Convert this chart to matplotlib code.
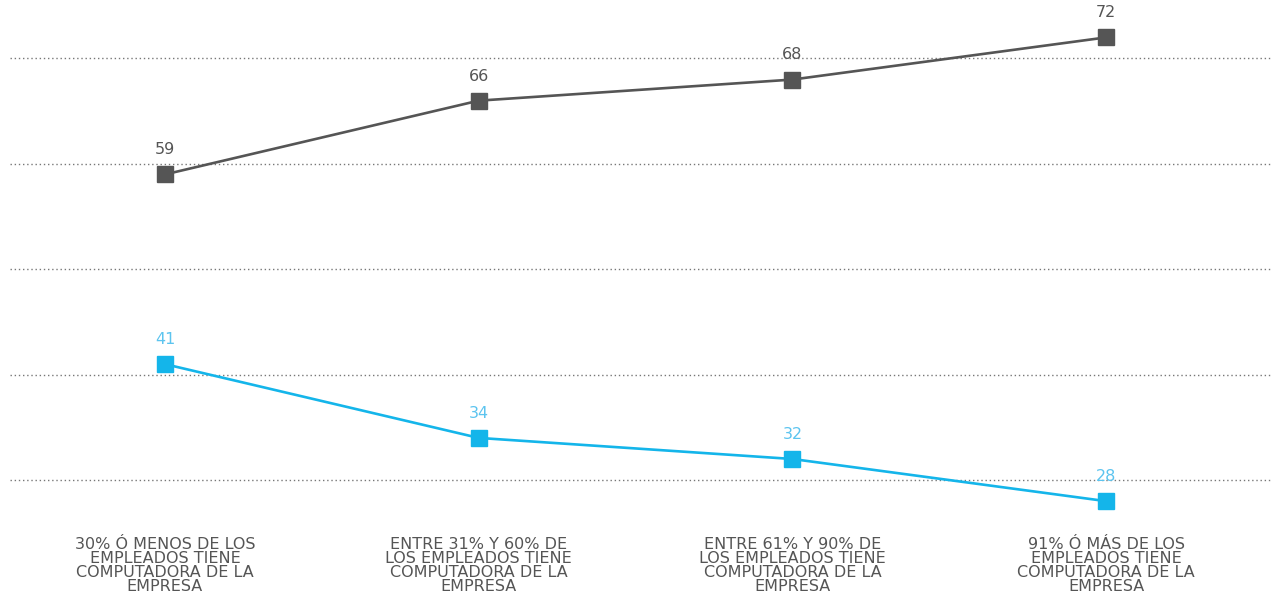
import matplotlib
matplotlib.use('Agg')
import matplotlib.pyplot as plt

categories = [
    "30% Ó MENOS DE LOS\nEMPLEADOS TIENE\nCOMPUTADORA DE LA\nEMPRESA",
    "ENTRE 31% Y 60% DE\nLOS EMPLEADOS TIENE\nCOMPUTADORA DE LA\nEMPRESA",
    "ENTRE 61% Y 90% DE\nLOS EMPLEADOS TIENE\nCOMPUTADORA DE LA\nEMPRESA",
    "91% Ó MÁS DE LOS\nEMPLEADOS TIENE\nCOMPUTADORA DE LA\nEMPRESA",
]
serie_gris = [59, 66, 68, 72]
serie_azul = [41, 34, 32, 28]
grid_vals = [30, 40, 50, 60, 70]

gris = '#555555'
azul = '#14b5ea'
azul_txt = '#5cc4ef'

fig = plt.figure(figsize=(12.73, 5.96), dpi=100)
ax = fig.add_axes([10 / 1273, 1 - 512 / 596, 1 - 10 / 1273, 512 / 596])

x = list(range(len(categories)))
for yv in grid_vals:
    ax.axhline(yv, color='#777777', lw=1, ls=(0, (1, 2)), zorder=1)

ax.plot(x, serie_gris, color=gris, lw=1.9, marker='s', ms=11.5, zorder=3)
ax.plot(x, serie_azul, color=azul, lw=1.9, marker='s', ms=11.5, zorder=3)

for xi, v in zip(x, serie_gris):
    ax.annotate(str(v), (xi, v), xytext=(0, 14.5), textcoords='offset points',
                ha='center', va='baseline', fontsize=11.5, color=gris)
for xi, v in zip(x, serie_azul):
    ax.annotate(str(v), (xi, v), xytext=(0, 14.5), textcoords='offset points',
                ha='center', va='baseline', fontsize=11.5, color=azul_txt)

ax.set_xlim(-0.494, 3.532)
ax.set_ylim(26.97, 75.55)
ax.set_xticks(x)
ax.set_xticklabels(categories, fontsize=11.5, color=gris, linespacing=0.93)
ax.tick_params(axis='x', length=0, pad=18)
ax.set_yticks([])
for s in ax.spines.values():
    s.set_visible(False)

fig.savefig('out.png', dpi=100)
